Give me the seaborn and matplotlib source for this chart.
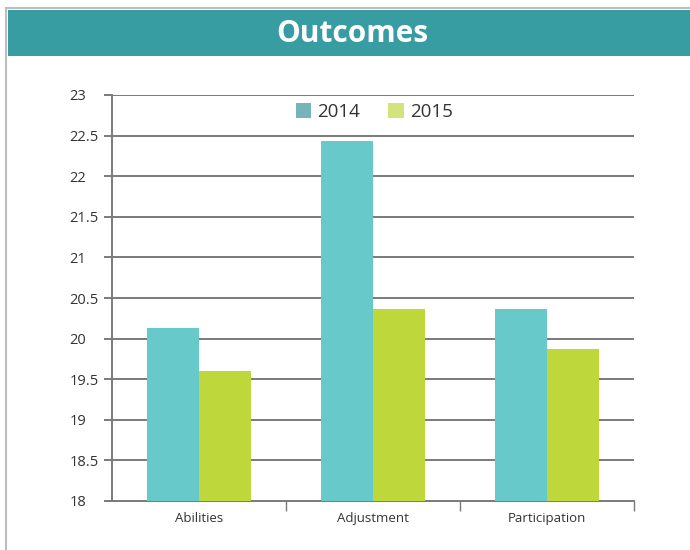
import pandas as pd
import matplotlib
matplotlib.use('Agg')
import matplotlib.pyplot as plt
import seaborn as sns
from matplotlib.patches import Patch, Rectangle

categories = ['Abilities', 'Adjustment', 'Participation']
years = ['2014', '2015']
scores_2014 = [20.13, 22.43, 20.36]
scores_2015 = [19.60, 20.36, 19.87]
y_ticks = [18, 18.5, 19, 19.5, 20, 20.5, 21, 21.5, 22, 22.5, 23]
y_labels = ['18', '18.5', '19', '19.5', '20', '20.5', '21', '21.5', '22', '22.5', '23']

bar_colors = ['#68C9CB', '#BED73B']
legend_colors = ['#76B4BB', '#D4E37C']

df = pd.DataFrame({
    'category': categories * 2,
    'year': [years[0]] * 3 + [years[1]] * 3,
    'score': scores_2014 + scores_2015,
})

sns.set_style('white')
plt.rcParams['font.family'] = ['Open Sans', 'DejaVu Sans']

fig = plt.figure(figsize=(6.9, 5.5), dpi=100)

# frame and header band (behind the axes)
fig.patches.append(Rectangle((6 / 690, -0.05), 1, 1.05 - 8 / 550, transform=fig.transFigure,
                             facecolor='white', edgecolor='#BDBDBD', linewidth=1.5, zorder=-2))
fig.patches.append(Rectangle((8 / 690, 1 - 56 / 550), 1, 46 / 550, transform=fig.transFigure,
                             facecolor='#389DA3', edgecolor='none', zorder=-1))
fig.text(352 / 690, 1 - 34 / 550, 'Outcomes', color='white', fontsize=21.5,
         fontweight='bold', ha='center', va='center')

ax = fig.add_axes([112 / 690, 1 - 501 / 550, 522 / 690, 406 / 550])
ax.patch.set_alpha(0)
sns.barplot(data=df, x='category', y='score', hue='year', palette=bar_colors,
            width=0.6, saturation=1, linewidth=0, ax=ax, legend=False, zorder=3)

ax.set_ylim(18, 23)
ax.set_xlim(-0.5, 2.5)
ax.set_yticks(y_ticks)
ax.set_yticklabels(y_labels)
ax.set_xlabel('')
ax.set_ylabel('')
ax.grid(False)
for y in y_ticks[1:]:
    ax.axhline(y, color='#7A7A7A', linewidth=1.4, zorder=1)

for side in ['top', 'right']:
    ax.spines[side].set_visible(False)
ax.spines['left'].set_color('#7A7A7A')
ax.spines['left'].set_linewidth(1.4)
ax.spines['bottom'].set_color('#7A7A7A')
ax.spines['bottom'].set_linewidth(1.4)

ax.tick_params(axis='y', direction='out', length=6, width=1.4, color='#7A7A7A',
               left=True, labelsize=10.5, labelcolor='#333333', pad=24.5)
for lab in ax.get_yticklabels():
    lab.set_horizontalalignment('left')
ax.tick_params(axis='x', which='major', length=0, labelsize=9.5,
               labelcolor='#333333', pad=8)
ax.set_xticks([0.5, 1.5, 2.5], minor=True)
ax.tick_params(axis='x', which='minor', direction='out', length=7, width=1,
               color='#7A7A7A', bottom=True)

handles = [Patch(facecolor=c, edgecolor='none') for c in legend_colors]
ax.legend(handles, years, loc='center', bbox_to_anchor=(0.502, 0.958), ncol=2,
          frameon=False, fontsize=13.5, handlelength=0.85, handleheight=0.85,
          handletextpad=0.3, columnspacing=1.5, labelcolor='#333333')

fig.savefig('out.png', dpi=100)
